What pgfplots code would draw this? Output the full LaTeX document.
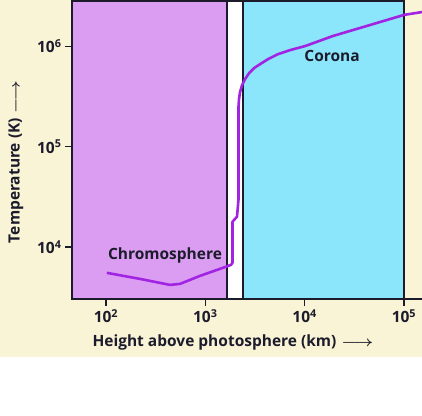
\documentclass[border=0pt]{standalone}
\usepackage{fontspec}
\setmainfont{Open Sans}
\usepackage{graphicx}
\usepackage{pgfplots}
\pgfplotsset{compat=1.18}
\definecolor{cream}{HTML}{F9F4D5}
\definecolor{chromo}{HTML}{DB9DF1}
\definecolor{corona}{HTML}{8CE6FB}
\definecolor{curve}{HTML}{A224E3}
\definecolor{ink}{HTML}{1B1B2B}
\newcommand{\longarr}{\scalebox{1.2}[1]{\boldmath$\longrightarrow$}}

\begin{document}
\begin{tikzpicture}[x=1pt,y=1pt]
\useasboundingbox (0,0) rectangle (422,415);
\fill[white] (0,0) rectangle (422,415);
\fill[cream] (0,58) rectangle (422,415);
\begin{axis}[
  at={(72pt,116pt)}, anchor=south west,
  width=350pt, height=299pt, scale only axis,
  xmode=log, ymode=log,
  xmin=45.5, xmax=152000, ymin=3040, ymax=2.9e6,
  axis x line*=bottom, axis y line*=left,
  axis line style={line width=1.5pt, ink},
  xtick={100,1000,10000,100000},
  xticklabels={10\textsuperscript{2},10\textsuperscript{3},10\textsuperscript{4},10\textsuperscript{5}},
  ytick={10000,100000,1000000},
  yticklabels={10\textsuperscript{4},10\textsuperscript{5},10\textsuperscript{6}},
  xminorticks=false, yminorticks=false,
  tick align=outside, major tick length=7pt,
  tick style={line width=1.5pt, ink},
  ticklabel style={font=\bfseries\fontsize{15.5}{15.5}\selectfont, text=ink},
  label style={font=\bfseries\fontsize{15.5}{15.5}\selectfont, text=ink},
  xlabel={Height above photosphere (km)\hspace{5pt}\longarr},
  ylabel={Temperature (K)\hspace{5pt}\longarr},
  xlabel style={at={(axis description cs:0.46,-0.144)}, anchor=center},
  ylabel style={at={(axis description cs:-0.16,0.458)}, anchor=center},
  clip=false,
]
% region boxes
\addplot[draw=ink, line width=1.5pt, fill=white] coordinates {
  (45.5,3040) (100000,3040) (100000,2.84e6) (45.5,2.84e6)} -- cycle;
\addplot[draw=ink, line width=1.5pt, fill=chromo] coordinates {
  (45.5,3040) (1652,3040) (1652,2.84e6) (45.5,2.84e6)} -- cycle;
\addplot[draw=ink, line width=1.5pt, fill=corona] coordinates {
  (2397,3040) (100000,3040) (100000,2.84e6) (2397,2.84e6)} -- cycle;
% temperature profile
\addplot[draw=curve, line width=2.6pt, line join=round] coordinates {
  (102,5540) (220,4820) (441,4200) (556,4300) (885,5170) (1406,6070)
  (1815,6650) (1880,7000) (1880,17900) (2085,20100) (2160,30000)
  (2160,253000) (2183,297000) (2234,349000) (2342,410000) (2512,471000)
  (2756,541000) (3093,607000) (3556,665000) (4276,746000) (5394,837000)
  (7124,918000) (10100,1.007e6) (19300,1.27e6)
  (42400,1.60e6) (100200,2.06e6) (152000,2.20e6)};
\node[font=\bfseries\fontsize{15.5}{15.5}\selectfont, text=ink] at (axis cs:393,8180) {Chromosphere};
\node[font=\bfseries\fontsize{15.5}{15.5}\selectfont, text=ink] at (axis cs:18900,800000) {Corona};
\end{axis}
\end{tikzpicture}
\end{document}
